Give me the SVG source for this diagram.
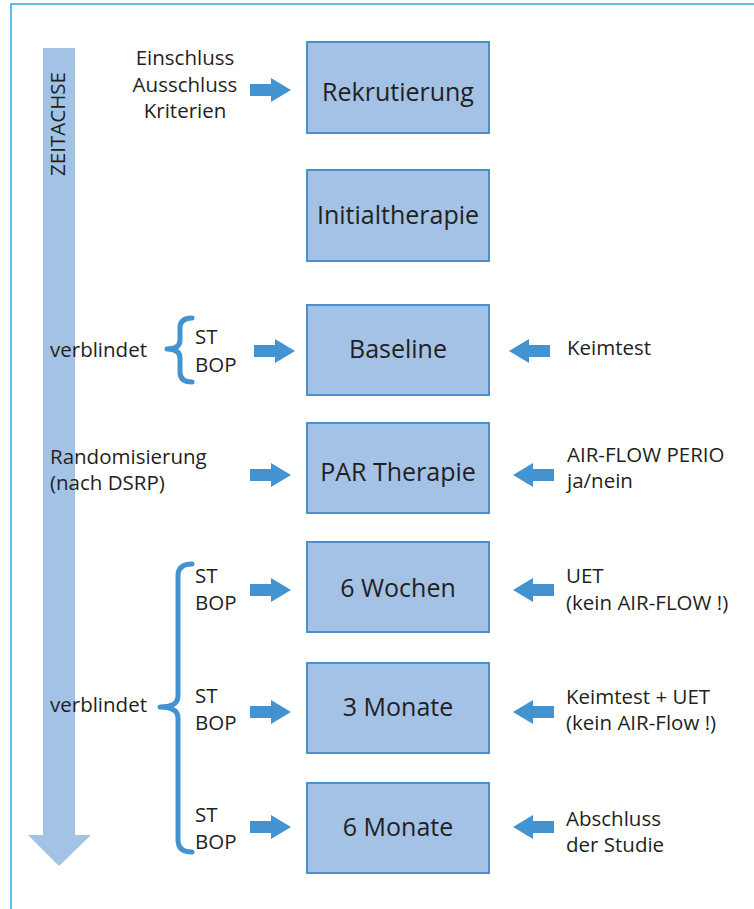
<svg xmlns="http://www.w3.org/2000/svg" width="754" height="909" viewBox="0 0 754 909">
<style>
.frame{fill:none;stroke:#29abe2;stroke-width:1.5}
.box{fill:#a4c2e6;stroke:#4a90d0;stroke-width:2}
.bl{font-family:"Open Sans","Liberation Sans",sans-serif;font-size:25px;fill:#231f20;text-anchor:middle}
.t{font-family:"Open Sans","Liberation Sans",sans-serif;font-size:20.5px;fill:#231f20}
.tc{text-anchor:middle}
.arr{fill:#4393d0}
.brace{fill:none;stroke:#4393d0;stroke-width:5;stroke-linecap:round;stroke-linejoin:round}
</style>
<defs>
<path id="ar" d="M0,-6 H21 V-12 L41,0 L21,12 V6 H0 Z"/>
<path id="al" d="M0,0 L20,-12 V-6 H41 V6 H20 V12 Z"/>
</defs>
<rect width="754" height="909" fill="#ffffff"/>
<path class="frame" d="M11,909 V4 H754"/>
<g id="zeitachse">
<path d="M43,48 H75 V835 H91 L59,866 L28,835 H43 Z" fill="#a3c3e6"/>
<text class="t" transform="translate(65,124) rotate(-90)" text-anchor="middle" font-size="18.5">ZEITACHSE</text>
</g>
<g id="n-rekrutierung"><rect class="box" x="307" y="42" width="182" height="91"/><text class="bl" x="398" y="101">Rekrutierung</text></g>
<g id="n-initialtherapie"><rect class="box" x="307" y="170" width="182" height="91"/><text class="bl" x="398" y="224">Initialtherapie</text></g>
<g id="n-baseline"><rect class="box" x="307" y="305" width="182" height="90"/><text class="bl" x="398" y="358">Baseline</text></g>
<g id="n-par"><rect class="box" x="307" y="423" width="182" height="90"/><text class="bl" x="398" y="481">PAR Therapie</text></g>
<g id="n-6wochen"><rect class="box" x="307" y="542" width="182" height="90"/><text class="bl" x="398" y="597">6 Wochen</text></g>
<g id="n-3monate"><rect class="box" x="307" y="663" width="182" height="90"/><text class="bl" x="398" y="716">3 Monate</text></g>
<g id="n-6monate"><rect class="box" x="307" y="783" width="182" height="90"/><text class="bl" x="398" y="836">6 Monate</text></g>
<g id="labels-left">
<text class="t tc" x="185" y="65">Einschluss</text>
<text class="t tc" x="185" y="92">Ausschluss</text>
<text class="t tc" x="185" y="118">Kriterien</text>
<text class="t" x="50" y="357">verblindet</text>
<text class="t" x="195" y="344">ST</text>
<text class="t" x="195" y="372">BOP</text>
<text class="t" x="50" y="464">Randomisierung</text>
<text class="t" x="50" y="490">(nach DSRP)</text>
<text class="t" x="50" y="712">verblindet</text>
<text class="t" x="195" y="583">ST</text>
<text class="t" x="195" y="610">BOP</text>
<text class="t" x="195" y="703">ST</text>
<text class="t" x="195" y="730">BOP</text>
<text class="t" x="195" y="822">ST</text>
<text class="t" x="195" y="849">BOP</text>
</g>
<g id="labels-right">
<text class="t" x="567" y="355">Keimtest</text>
<text class="t" x="567" y="462">AIR-FLOW PERIO</text>
<text class="t" x="567" y="488">ja/nein</text>
<text class="t" x="566" y="583">UET</text>
<text class="t" x="566" y="610">(kein AIR-FLOW !)</text>
<text class="t" x="566" y="704">Keimtest + UET</text>
<text class="t" x="566" y="730">(kein AIR-Flow !)</text>
<text class="t" x="566" y="826">Abschluss</text>
<text class="t" x="566" y="852">der Studie</text>
</g>
<g id="braces">
<path class="brace" d="M192,318 Q180,318 180,328 L180,340 Q180,349 167,349 Q180,349 180,358 L180,372 Q180,382 192,382"/>
<path class="brace" d="M192,564 Q178,564 178,576 L178,696 Q178,707 160,707 Q178,707 178,718 L178,840 Q178,852 192,852"/>
</g>
<g id="connectors" class="arr">
<use href="#ar" x="250" y="90"/>
<use href="#ar" x="254" y="351"/>
<use href="#ar" x="250" y="475"/>
<use href="#ar" x="250" y="590"/>
<use href="#ar" x="250" y="712"/>
<use href="#ar" x="250" y="827"/>
<use href="#al" x="509" y="351"/>
<use href="#al" x="513" y="475"/>
<use href="#al" x="513" y="590"/>
<use href="#al" x="513" y="712"/>
<use href="#al" x="513" y="827"/>
</g>
</svg>
